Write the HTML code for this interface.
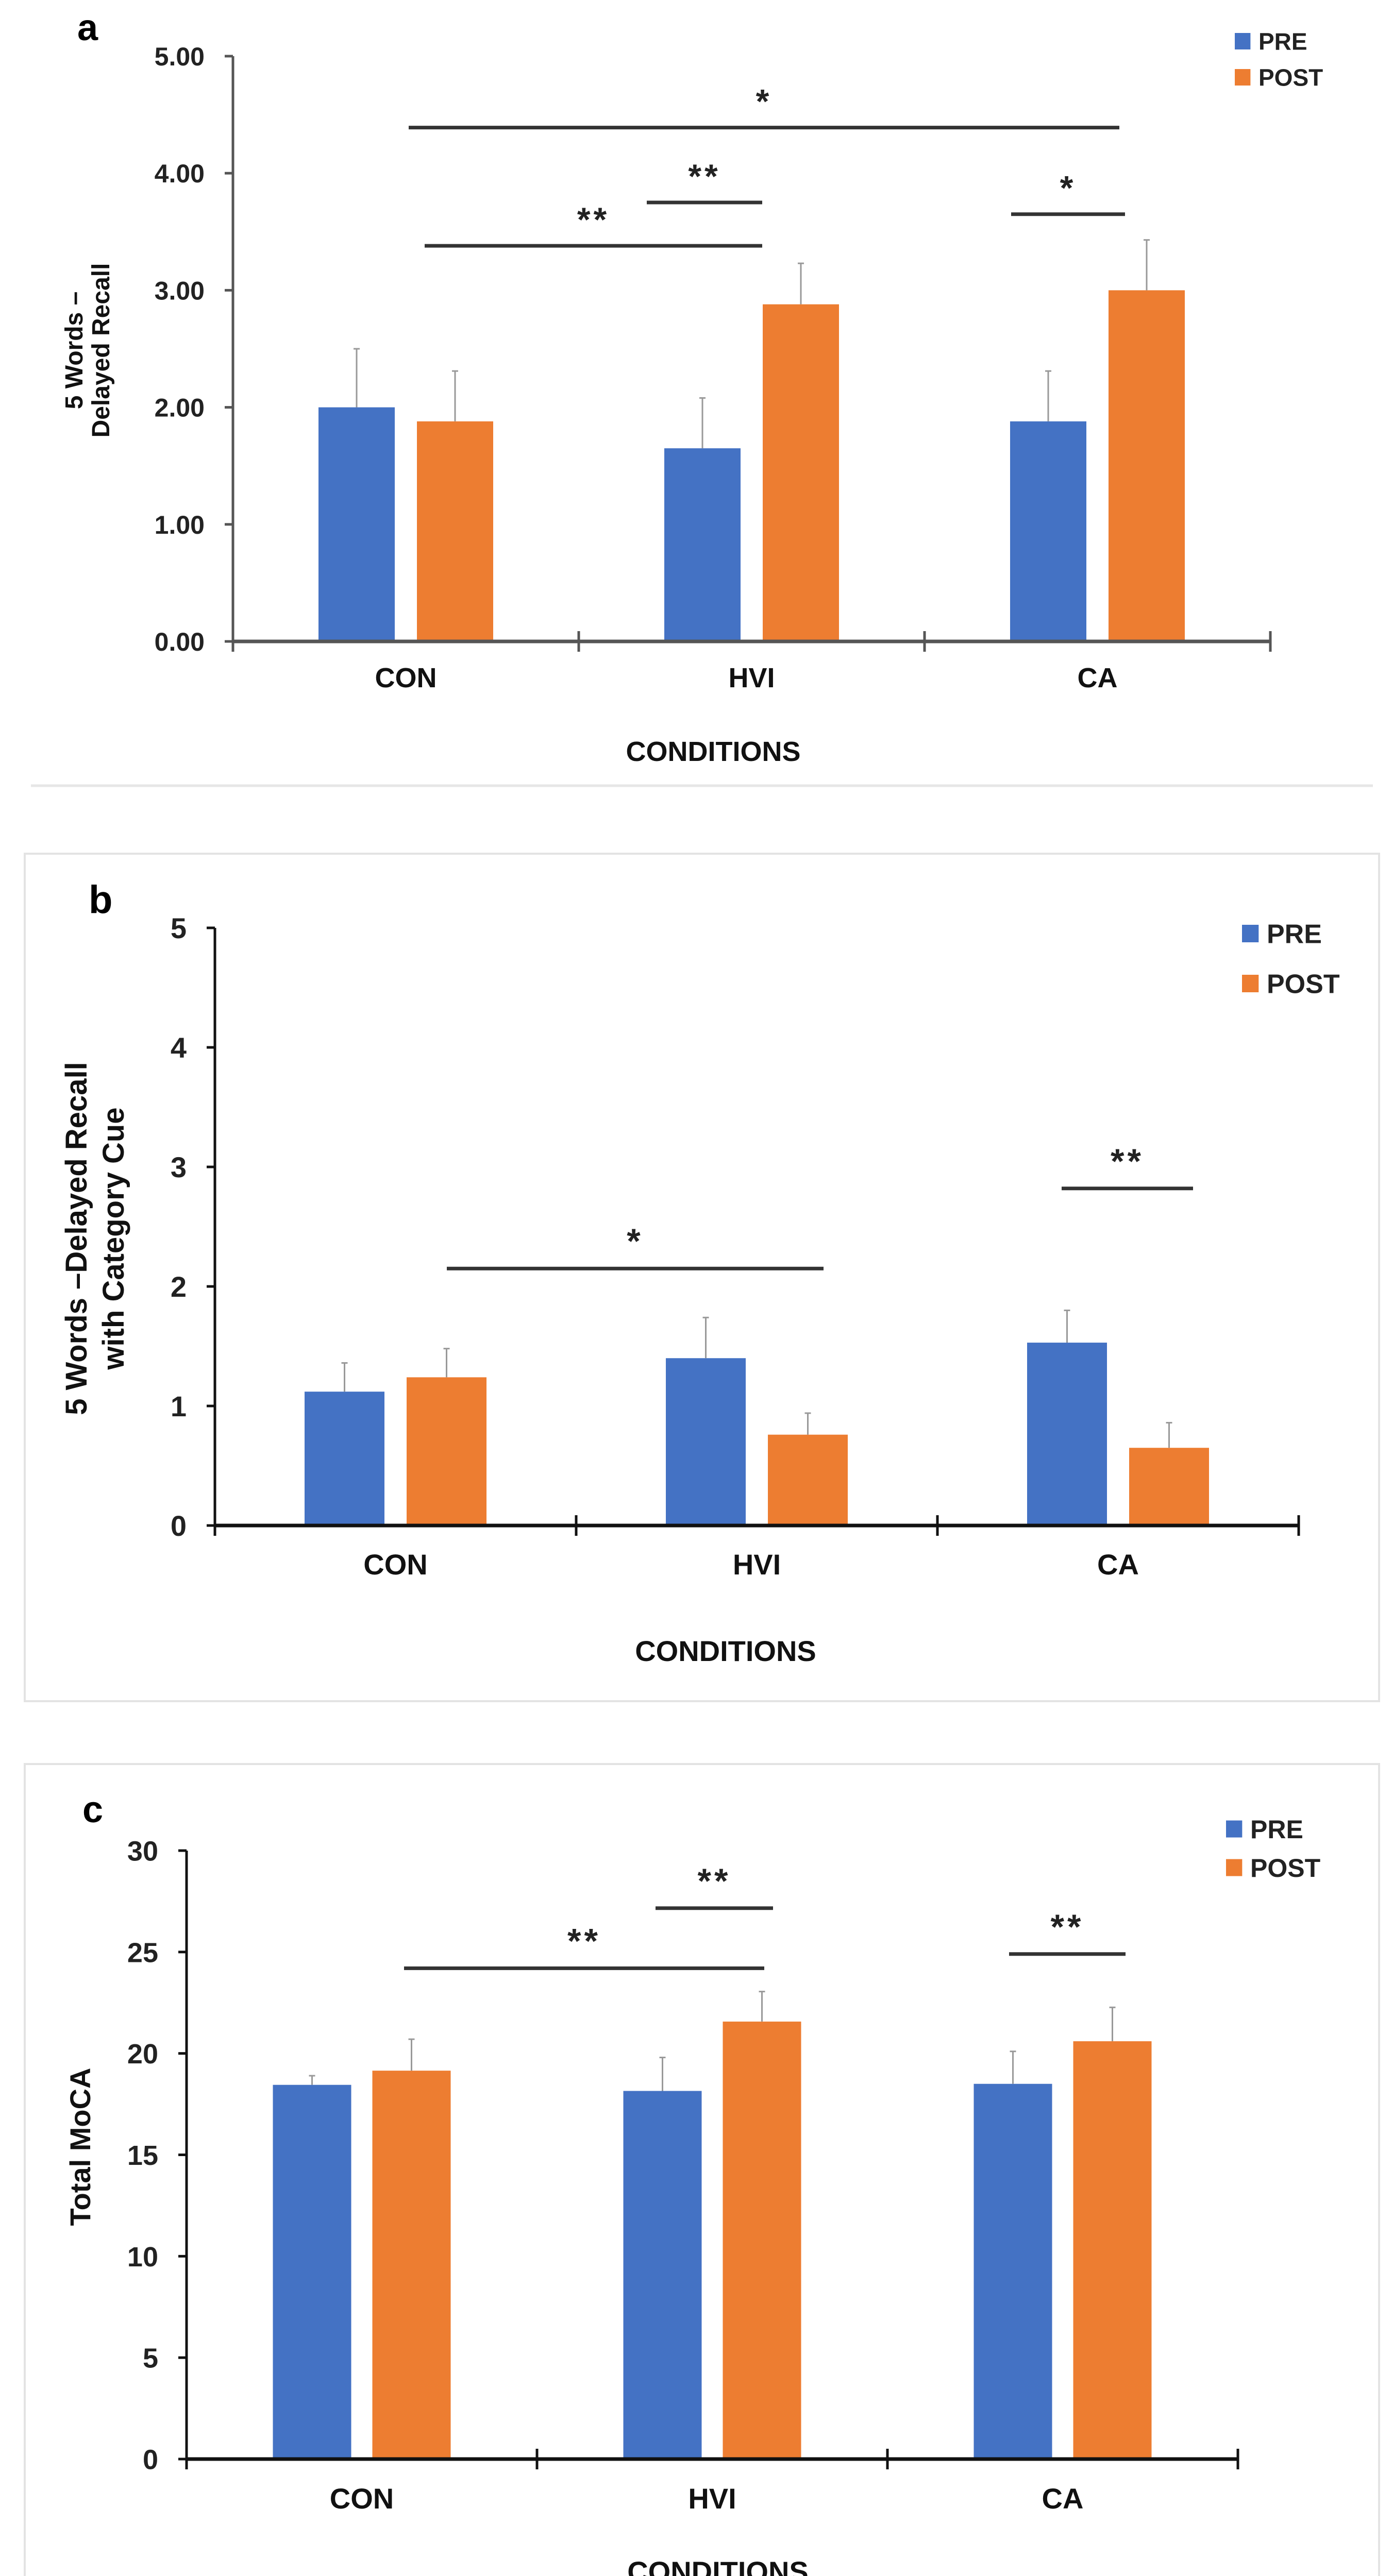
<!DOCTYPE html>
<html><head><meta charset="utf-8"><style>
html,body{margin:0;padding:0;background:#fff;overflow:hidden;}
svg{display:block;font-family:"Liberation Sans",sans-serif;}
</style></head><body>
<svg id="fig" width="2703" height="5119" viewBox="0 0 2703 5119" xmlns="http://www.w3.org/2000/svg">
<rect x="0" y="0" width="2703" height="5119" fill="#fff"/>
<line x1="60" y1="1525" x2="2664" y2="1525" stroke="#e6e6e6" stroke-width="5"/>
<rect x="48" y="1657" width="2628" height="1645" fill="none" stroke="#e3e3e3" stroke-width="4"/>
<path d="M48,5072 L48,3424 L2676,3424 L2676,5072" fill="none" stroke="#e3e3e3" stroke-width="4"/>
</svg>
<script>
const categories = ["CON","HVI","CA"];
// panel a
const aPre = [2.00,1.65,1.88];
const aPost = [1.88,2.88,3.00];
const aPreErr = [0.50,0.43,0.43];
const aPostErr = [0.43,0.35,0.43];
const aTicks = ["0.00","1.00","2.00","3.00","4.00","5.00"];
const aSigLevels = [4.39,3.38,3.75,3.65];
const aSigLabels = ["*","**","**","*"];
// panel b
const bPre = [1.12,1.40,1.53];
const bPost = [1.24,0.76,0.65];
const bPreErr = [0.24,0.34,0.27];
const bPostErr = [0.24,0.18,0.21];
const bTicks = ["0","1","2","3","4","5"];
const bSigLevels = [2.15,2.82];
const bSigLabels = ["*","**"];
// panel c
const cPre = [18.45,18.15,18.5];
const cPost = [19.15,21.57,20.6];
const cPreErr = [0.45,1.65,1.6];
const cPostErr = [1.55,1.48,1.67];
const cTicks = ["0","5","10","15","20","25","30"];
const cSigLevels = [24.2,27.16,24.9];
const cSigLabels = ["**","**","**"];

const NS="http://www.w3.org/2000/svg";
const svg=document.getElementById('fig');
function mk(tag,attrs,parent){const e=document.createElementNS(NS,tag);for(const k in attrs)e.setAttribute(k,attrs[k]);(parent||svg).appendChild(e);return e;}

function chart(p){
  const g=mk('g',{});
  
  
  const max=p.max;
  const y=v=>p.y0-(v/max)*(p.y0-p.y1);
  const cw=(p.x1-p.x0)/categories.length;
  const cx=i=>p.x0+cw*(i+0.5);
  const L=mk('text',{x:p.letter[0],y:p.letter[1],'font-size':p.letterFs,'font-weight':'bold',fill:'#000'},g);L.textContent=p.id.slice(-1);
  
  
  [[p.pre,p.preErr,'#4472C4',-1],[p.post,p.postErr,'#ED7D31',1]].forEach(([vals,errs,col,side],si)=>{
    vals.forEach((v,i)=>{
      const bx=cx(i)+(side<0?-p.gap/2-p.bw:p.gap/2);
      const r=mk('rect',{x:bx,y:y(v),width:p.bw,height:p.y0-y(v),fill:col},g);
      
      
      const mx=bx+p.bw/2;
      const e=mk('line',{x1:mx,x2:mx,y1:y(v),y2:y(v+errs[i]),stroke:'#999','stroke-width':3},g);
      
      
      mk('line',{x1:mx-6,x2:mx+6,y1:y(v+errs[i]),y2:y(v+errs[i]),stroke:'#999','stroke-width':3},g);
    });
  });
  const ya=mk('line',{x1:p.x0,x2:p.x0,y1:p.y0,y2:y(max),stroke:p.axisCol,'stroke-width':5},g);
  
  
  const xa=mk('line',{x1:p.x0,x2:p.x1,y1:p.y0,y2:p.y0,stroke:p.axisCol,'stroke-width':7},g);
  
  
  for(let i=0;i<=categories.length;i++){const tx=p.x0+cw*i;mk('line',{x1:tx,x2:tx,y1:p.y0-20,y2:p.y0+20,stroke:p.axisCol,'stroke-width':5},g);}
  p.ticks.forEach((t,i)=>{
    const v=max*i/(p.ticks.length-1);
    mk('line',{x1:p.x0-16,x2:p.x0,y1:y(v),y2:y(v),stroke:p.axisCol,'stroke-width':5},g);
    const tt=mk('text',{x:p.tickRight,y:y(v)+p.fs*0.36,'text-anchor':'end','font-size':p.fs,'font-weight':'bold',fill:'#222',textLength:p.tickW?p.tickW*t.length/4:null},g);tt.textContent=t;
    if(!p.tickW)tt.removeAttribute('textLength');
    
    
  });
  categories.forEach((c,i)=>{
    const t=mk('text',{x:cx(i),y:p.catY,'text-anchor':'middle','font-size':p.catFs,'font-weight':'bold',fill:'#111'},g);t.textContent=c;
    
    
  });
  const xt=mk('text',{x:p.condX,y:p.condY,'text-anchor':'middle','font-size':p.catFs,'font-weight':'bold',fill:'#111'},g);xt.textContent='CONDITIONS';
  
  
  const yt=mk('text',{transform:`translate(${p.yt[0]},${p.yt[1]}) rotate(-90)`,'text-anchor':'middle','font-size':p.ytfs,'font-weight':'bold',fill:'#111'},g);
  
  
  p.ytLines.forEach((l,i)=>{const s=mk('tspan',{x:0,dy:i?p.ytGap:0},yt);s.textContent=l;});
  p.sig.forEach((s,i)=>{
    const ly=y(p.sigLevels[i]);
    const l=mk('line',{x1:s[0],x2:s[1],y1:ly,y2:ly,stroke:'#333','stroke-width':7},g);
    
    
    const t=mk('text',{x:(s[0]+s[1])/2,y:ly-p.starOff,'text-anchor':'middle','font-size':p.starFs,'font-weight':'bold',fill:'#222','letter-spacing':6},g);t.textContent=p.sigLabels[i];
    
    
  });
  [['PRE','#4472C4'],['POST','#ED7D31']].forEach(([n,c],i)=>{
    const ly=p.leg[1]+i*p.leg[2];
    const r=mk('rect',{x:p.leg[0],y:ly-p.legSz/2,width:p.legSz*0.95,height:p.legSz,fill:c},g);
    
    
    const t=mk('text',{x:p.leg[0]+p.legSz+14,y:ly+p.legFs*0.36,'font-size':p.legFs,'font-weight':'bold',fill:'#222'},g);t.textContent=n;
    
    
  });
}

chart({id:'panel-a',x0:452,x1:2465,y0:1245,y1:109,max:5,bw:148,gap:43,pre:aPre,post:aPost,preErr:aPreErr,postErr:aPostErr,
  ticks:aTicks,fs:50,tickRight:397,axisCol:'#555',letter:[150,78],letterFs:72,catY:1334,catFs:54,condX:1384,condY:1477,
  yt:[160,680],ytfs:48,ytGap:52,ytLines:['5 Words –','Delayed Recall'],
  sigLevels:aSigLevels,sigLabels:aSigLabels,sig:[[793,2172],[824,1479],[1255,1479],[1962,2183]],starOff:28,starFs:66,
  leg:[2396,80,70],legSz:32,legFs:46});
chart({id:'panel-b',x0:417,x1:2520,y0:2961,y1:1801,max:5,bw:155,gap:43,pre:bPre,post:bPost,preErr:bPreErr,postErr:bPostErr,
  ticks:bTicks,fs:56,tickRight:362,axisCol:'#111',letter:[172,1772],letterFs:76,catY:3056,catFs:56,condX:1408,condY:3224,
  yt:[168,2404],ytfs:58,ytGap:72,ytLines:['5 Words –Delayed Recall','with Category Cue'],
  sigLevels:bSigLevels,sigLabels:bSigLabels,sig:[[867,1598],[2060,2315]],starOff:30,starFs:68,
  leg:[2410,1812,97],legSz:34,legFs:52});
chart({id:'panel-c',x0:362,x1:2402,y0:4773,y1:3592,max:30,bw:152,gap:41,pre:cPre,post:cPost,preErr:cPreErr,postErr:cPostErr,
  ticks:cTicks,fs:54,tickRight:307,axisCol:'#111',letter:[160,3537],letterFs:72,catY:4869,catFs:56,condX:1393,condY:5011,
  yt:[175,4167],ytfs:56,ytGap:60,ytLines:['Total MoCA'],
  sigLevels:cSigLevels,sigLabels:cSigLabels,sig:[[784,1483],[1272,1500],[1958,2184]],starOff:30,starFs:68,
  leg:[2379,3550,75],legSz:33,legFs:50});
</script>
</body></html>
